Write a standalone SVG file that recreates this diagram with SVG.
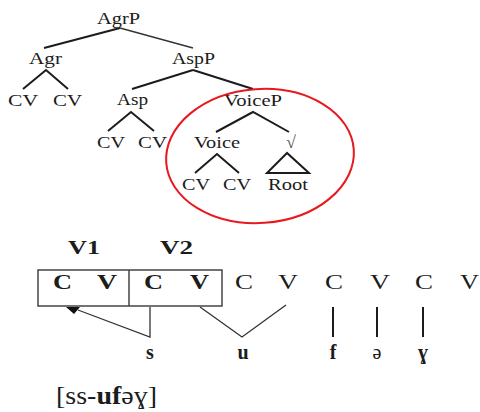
<svg xmlns="http://www.w3.org/2000/svg" width="480" height="412" viewBox="0 0 480 412">
  <style>
    .t { font-family: "Liberation Serif", "Times New Roman", serif; font-size: 17.5px; fill: #1c1c1c; }
    .cv { font-family: "Liberation Serif", "Times New Roman", serif; font-size: 21px; fill: #1c1c1c; }
    .b { font-weight: bold; }
    .lbl { font-family: "Liberation Serif", "Times New Roman", serif; font-size: 20px; font-weight: bold; fill: #1c1c1c; text-anchor: middle; }
    .ln { stroke: #1c1c1c; stroke-width: 2; fill: none; }
    .thin { stroke: #333; stroke-width: 1.3; fill: none; }
    .box { stroke: #444; stroke-width: 1.5; fill: none; }
  </style>

  <!-- syntactic tree connectors -->
  <g id="connectors">
    <line class="ln" x1="120" y1="28" x2="44" y2="48"/>
    <line class="thin" x1="120" y1="28" x2="193" y2="48"/>
    <polyline class="ln" points="23,89 46,70 68,89"/>
    <line class="ln" x1="193" y1="70" x2="132" y2="89"/>
    <line class="ln" x1="193" y1="70" x2="253" y2="89"/>
    <polyline class="ln" points="108,131 131,112 154,131"/>
    <polyline class="ln" points="216,132 253,112 289,132"/>
    <polyline class="ln" points="195,173 217,154 239,173"/>
    <polygon class="ln" points="287,153 267,173 309,173"/>

    <!-- skeleton association lines -->
    <polyline class="thin" points="150,307 150,337 78,310"/>
    <polygon points="66,307 80,307 74,314" fill="#111"/>
    <polyline class="thin" points="200,307 242,337 286,305"/>
    <line class="ln" x1="333" y1="307" x2="333" y2="337"/>
    <line class="ln" x1="377" y1="307" x2="377" y2="337"/>
    <line class="ln" x1="423" y1="307" x2="423" y2="337"/>
  </g>

  <!-- tree nodes -->
  <g id="agrp"><text class="t" x="97" y="24" textLength="43" lengthAdjust="spacingAndGlyphs">AgrP</text></g>
  <g id="agr"><text class="t" x="29" y="64" textLength="33" lengthAdjust="spacingAndGlyphs">Agr</text></g>
  <g id="aspp"><text class="t" x="172" y="64" textLength="43" lengthAdjust="spacingAndGlyphs">AspP</text></g>
  <g id="agr-cv1"><text class="t" x="8" y="106" textLength="30" lengthAdjust="spacingAndGlyphs">CV</text></g>
  <g id="agr-cv2"><text class="t" x="53" y="106" textLength="29" lengthAdjust="spacingAndGlyphs">CV</text></g>
  <g id="asp"><text class="t" x="117" y="105" textLength="31" lengthAdjust="spacingAndGlyphs">Asp</text></g>
  <g id="asp-cv1"><text class="t" x="97" y="148" textLength="28" lengthAdjust="spacingAndGlyphs">CV</text></g>
  <g id="asp-cv2"><text class="t" x="138" y="148" textLength="29" lengthAdjust="spacingAndGlyphs">CV</text></g>
  <g id="voicep"><text class="t" x="224" y="106" textLength="58" lengthAdjust="spacingAndGlyphs">VoiceP</text></g>
  <g id="voice"><text class="t" x="194" y="148" textLength="46" lengthAdjust="spacingAndGlyphs">Voice</text></g>
  <g id="root-sign"><text class="t" x="291" y="148" text-anchor="middle" style="fill:#4a4a4a">√</text></g>
  <g id="voice-cv1"><text class="t" x="182" y="190" textLength="28" lengthAdjust="spacingAndGlyphs">CV</text></g>
  <g id="voice-cv2"><text class="t" x="223" y="190" textLength="28" lengthAdjust="spacingAndGlyphs">CV</text></g>
  <g id="root"><text class="t" x="268" y="190" textLength="40" lengthAdjust="spacingAndGlyphs">Root</text></g>

  <!-- highlighted domain -->
  <ellipse cx="260" cy="156" rx="94" ry="67" transform="rotate(-4 260 156)" fill="none" stroke="#e8191e" stroke-width="2"/>

  <!-- CV skeleton -->
  <g id="v1"><text class="cv b" x="68" y="254" style="font-size:18px" textLength="32" lengthAdjust="spacingAndGlyphs">V1</text></g>
  <g id="v2"><text class="cv b" x="160" y="254" style="font-size:18px" textLength="33" lengthAdjust="spacingAndGlyphs">V2</text></g>
  <g id="skeleton-box">
    <rect class="box" x="38" y="270" width="184" height="36"/>
    <line class="box" x1="129" y1="270" x2="129" y2="306"/>
  </g>
  <g id="slots">
    <text class="cv b" x="53" y="289" textLength="19" lengthAdjust="spacingAndGlyphs">C</text>
    <text class="cv b" x="97" y="289" textLength="20" lengthAdjust="spacingAndGlyphs">V</text>
    <text class="cv b" x="144" y="289" textLength="19" lengthAdjust="spacingAndGlyphs">C</text>
    <text class="cv b" x="190" y="289" textLength="19" lengthAdjust="spacingAndGlyphs">V</text>
    <text class="cv" x="235" y="289" textLength="18" lengthAdjust="spacingAndGlyphs">C</text>
    <text class="cv" x="278" y="289" textLength="20" lengthAdjust="spacingAndGlyphs">V</text>
    <text class="cv" x="325" y="289" textLength="18" lengthAdjust="spacingAndGlyphs">C</text>
    <text class="cv" x="370" y="289" textLength="20" lengthAdjust="spacingAndGlyphs">V</text>
    <text class="cv" x="415" y="289" textLength="18" lengthAdjust="spacingAndGlyphs">C</text>
    <text class="cv" x="460" y="289" textLength="19" lengthAdjust="spacingAndGlyphs">V</text>
  </g>

  <!-- melody -->
  <g id="segments">
    <text class="lbl" x="150" y="359">s</text>
    <text class="lbl" x="243" y="359">u</text>
    <text class="lbl" x="333" y="359">f</text>
    <text class="lbl" x="377" y="359" style="font-weight:normal">ə</text>
    <text class="lbl" x="423" y="359">ɣ</text>
  </g>

  <g id="surface-form">
    <text class="cv" x="56" y="404" style="font-size:25px" textLength="101" lengthAdjust="spacingAndGlyphs">[ss-<tspan font-weight="bold">uf</tspan>əɣ]</text>
  </g>
</svg>
